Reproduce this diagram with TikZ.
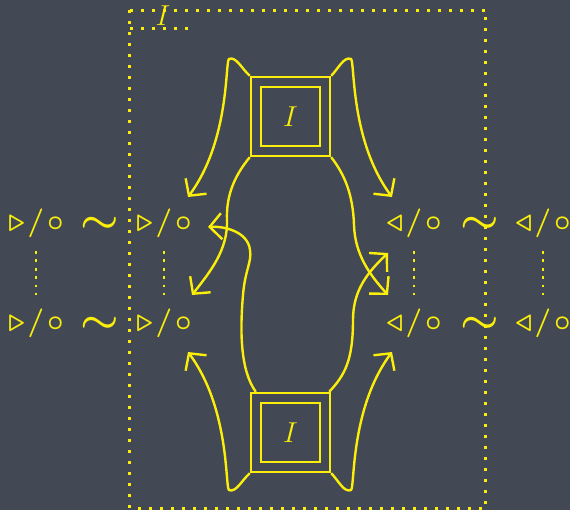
\documentclass[tikz,border=0pt]{standalone}
\usepackage{amssymb,amsmath}
\usepackage{graphicx}
\usetikzlibrary{arrows.meta}
\definecolor{board}{RGB}{67,73,84}
\definecolor{chalk}{RGB}{250,238,10}
\tikzset{
	chalkline/.style={draw=chalk, line width=1.2pt},
	chalkarrow/.style={chalkline, -{Straight Barb[length=6pt,width=13pt]}},
	bigdots/.style={draw=chalk, line width=1.5pt, dash pattern=on 1.5pt off 4pt},
	smalldots/.style={draw=chalk, line width=1.4pt, dash pattern=on 1.4pt off 2.8pt},
	chalktext/.style={text=chalk, font=\fontsize{15}{17}\selectfont, inner sep=0pt},
	pairtext/.style={chalktext, font=\fontsize{15}{17}\selectfont\boldmath},
}
\newcommand{\rpair}{$\triangleright\mkern1.5mu/\mkern1.5mu\circ$}
\newcommand{\lpair}{$\triangleleft\mkern1.5mu/\mkern1.5mu\circ$}
\newcommand{\wave}{\scalebox{1.5}[1.35]{$\sim$}}
\newcommand{\chalkbox}[3]{%
	\node[chalkline, minimum size=39.5pt] (#1) at (#2,#3) {};
	\node[chalkline, minimum size=29.5pt, chalktext] (#1in) at (#2,#3) {$I$};
}

\begin{document}
\begin{tikzpicture}[x=0.5pt,y=-0.5pt]
	\useasboundingbox (0,0) rectangle (570,510);
	\fill[board] (0,0) rectangle (570,510);
	\draw[bigdots] (130,10) rectangle (486,508);
	\draw[bigdots] (130,28) -- (195,28);
	\node[chalktext] (tab) at (163,16) {$I$};
	\chalkbox{topbox}{290.5}{116.5}
	\chalkbox{botbox}{290.5}{432.5}
	\foreach \row/\y in {1/223,2/323}{
		\node[pairtext] (lo\row) at (36,\y) {\rpair};
		\node[pairtext] (lw\row) at (100,\y+2) {\wave};
		\node[pairtext] (li\row) at (164,\y) {\rpair};
		\node[pairtext] (ri\row) at (414,\y) {\lpair};
		\node[pairtext] (rw\row) at (480,\y+2) {\wave};
		\node[pairtext] (ro\row) at (543,\y) {\lpair};
	}
	\foreach \n in {lo,li,ri,ro}
		\draw[smalldots, shorten <=14pt, shorten >=14pt] (\n1.center) -- (\n2.center);
	\coordinate (li1up) at (188,197);
	\coordinate (ri1up) at (392,197);
	\coordinate (li2dn) at (188,352);
	\coordinate (ri2dn) at (392,352);
	\coordinate (li2up) at (192,295);
	\coordinate (ri2up) at (388,295);
	\coordinate (li1rt) at (208,227);
	\coordinate (ri1dn) at (388,253);
	\draw[chalkarrow] (topbox.north west) .. controls (242,69) and (236,56) .. (229,59)
		.. controls (225,62) and (230,140) .. (li1up);
	\draw[chalkarrow] (topbox.north east) .. controls (338,69) and (344,56) .. (351,59)
		.. controls (355,62) and (350,140) .. (ri1up);
	\draw[chalkarrow] (botbox.south west) .. controls (242,480) and (236,493) .. (229,490)
		.. controls (225,487) and (230,409) .. (li2dn);
	\draw[chalkarrow] (botbox.south east) .. controls (338,480) and (344,493) .. (351,490)
		.. controls (355,487) and (350,409) .. (ri2dn);
	\draw[chalkarrow] (topbox.south west) .. controls (235,175) and (226,195) .. (227,220)
		.. controls (228,250) and (210,272) .. (li2up);
	\draw[chalkarrow] (topbox.south east) .. controls (345,175) and (353,195) .. (354,225)
		.. controls (355,255) and (370,275) .. (ri2up);
	\draw[chalkarrow] ([xshift=3pt]botbox.north west) .. controls (240,370) and (240,330) .. (243,295)
		.. controls (245,270) and (252,262) .. (250,250)
		.. controls (248,232) and (225,226) .. (li1rt);
	\draw[chalkarrow] ([xshift=-1pt]botbox.north east) .. controls (345,375) and (353,360) .. (353,320)
		.. controls (353,290) and (368,272) .. (ri1dn);
\end{tikzpicture}
\end{document}
